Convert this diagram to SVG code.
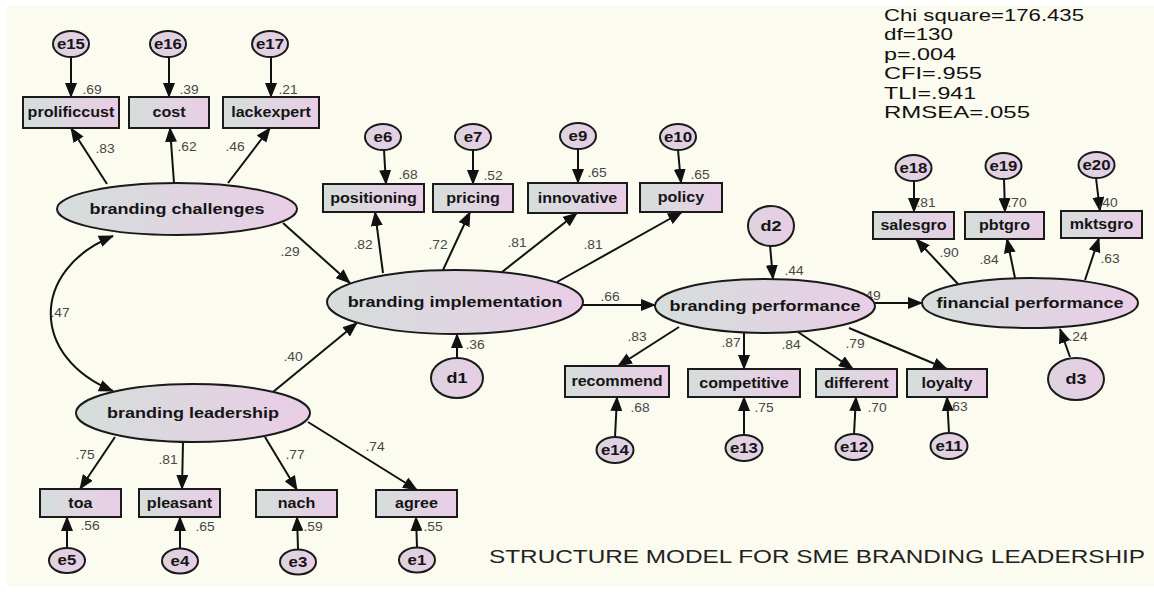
<svg xmlns="http://www.w3.org/2000/svg" width="1154" height="597" viewBox="0 0 1154 597">
<defs>
<linearGradient id="gb" x1="0" y1="0" x2="1" y2="0"><stop offset="0" stop-color="#d5dedb"/><stop offset="1" stop-color="#e9cde6"/></linearGradient>
<linearGradient id="ge" x1="0" y1="0" x2="1" y2="0"><stop offset="0" stop-color="#dcd4de"/><stop offset="1" stop-color="#e8cde5"/></linearGradient>
<marker id="ah" markerWidth="15" markerHeight="12" refX="14" refY="6" orient="auto-start-reverse" markerUnits="userSpaceOnUse"><path d="M0,0 L15,6 L0,12 z" fill="#111"/></marker>
<style>
.box{fill:url(#gb);stroke:#1a1a1a;stroke-width:2}
.lat{fill:url(#gb);stroke:#1a1a1a;stroke-width:2}
.err{fill:url(#ge);stroke:#1a1a1a;stroke-width:2}
.t{font-family:"Liberation Sans",Arial,sans-serif;font-weight:bold;fill:#151515;text-anchor:middle;transform-box:fill-box;transform-origin:center}
.tb{font-size:14px;transform:scaleX(1.15)}
.te{font-size:15px;transform:scaleX(1.2)}
.tr{font-size:14px;transform:scaleX(1.2)}
.td{font-size:15px;transform:scaleX(1.2)}
.n{font-family:"Liberation Sans",Arial,sans-serif;font-size:12px;fill:#474747;text-anchor:middle;transform:scaleX(1.15);transform-box:fill-box;transform-origin:center}
.c{fill:none;stroke:#111;stroke-width:2;marker-end:url(#ah)}
.fit{font-family:"Liberation Sans",Arial,sans-serif;font-size:17px;fill:#111}
.title{font-family:"Liberation Sans",Arial,sans-serif;font-size:19px;fill:#222}
</style>
</defs>
<rect x="0" y="0" width="1154" height="597" fill="#ffffff"/>
<rect x="7" y="5" width="1147" height="582" fill="#fbfbef"/>

<g id="connectors">
<line class="c" x1="71" y1="57" x2="71" y2="97"/>
<line class="c" x1="169" y1="57" x2="169" y2="97"/>
<line class="c" x1="271" y1="57" x2="271" y2="97"/>
<line class="c" x1="384" y1="150" x2="386" y2="184"/>
<line class="c" x1="473" y1="150" x2="473" y2="184"/>
<line class="c" x1="578" y1="149" x2="578" y2="183"/>
<line class="c" x1="678" y1="150" x2="681" y2="183"/>
<line class="c" x1="914" y1="181" x2="914" y2="212"/>
<line class="c" x1="1004" y1="179" x2="1005" y2="212"/>
<line class="c" x1="1096" y1="178" x2="1100" y2="211"/>
<line class="c" x1="615" y1="437" x2="617" y2="397"/>
<line class="c" x1="744" y1="435" x2="744" y2="397"/>
<line class="c" x1="854" y1="434" x2="856" y2="397"/>
<line class="c" x1="949" y1="433" x2="947" y2="397"/>
<line class="c" x1="67" y1="548" x2="67" y2="517"/>
<line class="c" x1="180" y1="548" x2="180" y2="517"/>
<line class="c" x1="298" y1="549" x2="297" y2="517"/>
<line class="c" x1="417" y1="547" x2="416" y2="517"/>
<line class="c" x1="107" y1="184" x2="71" y2="128"/>
<line class="c" x1="174" y1="183" x2="170" y2="128"/>
<line class="c" x1="228" y1="183" x2="270" y2="128"/>
<line class="c" x1="383" y1="273" x2="375" y2="212"/>
<line class="c" x1="443" y1="270" x2="470" y2="212"/>
<line class="c" x1="502" y1="272" x2="577" y2="213"/>
<line class="c" x1="557" y1="282" x2="682" y2="212"/>
<line class="c" x1="958" y1="284" x2="916" y2="239"/>
<line class="c" x1="1015" y1="278" x2="1007" y2="239"/>
<line class="c" x1="1085" y1="280" x2="1099" y2="238"/>
<line class="c" x1="679" y1="327" x2="618" y2="366"/>
<line class="c" x1="744" y1="333" x2="744" y2="369"/>
<line class="c" x1="798" y1="332" x2="853" y2="369"/>
<line class="c" x1="849" y1="328" x2="947" y2="369"/>
<line class="c" x1="115" y1="437" x2="80" y2="489"/>
<line class="c" x1="183" y1="442" x2="182" y2="489"/>
<line class="c" x1="265" y1="437" x2="297" y2="490"/>
<line class="c" x1="308" y1="422" x2="417" y2="490"/>
<line class="c" x1="283" y1="223" x2="350" y2="283"/>
<line class="c" x1="273" y1="392" x2="357" y2="323"/>
<line class="c" x1="583" y1="305" x2="655" y2="305"/>
<line class="c" x1="875" y1="303" x2="922" y2="303"/>
<line class="c" x1="457" y1="358" x2="457" y2="334"/>
<line class="c" x1="770" y1="245" x2="773" y2="279"/>
<line class="c" x1="1070" y1="357" x2="1060" y2="329"/>
<path class="c" d="M113,236 C30,270 30,357 113,391" marker-start="url(#ah)"/>
<text class="n" x="92" y="94">.69</text>
<text class="n" x="189" y="94">.39</text>
<text class="n" x="288" y="94">.21</text>
<text class="n" x="105" y="153">.83</text>
<text class="n" x="187" y="151">.62</text>
<text class="n" x="235" y="151">.46</text>
<text class="n" x="408" y="179">.68</text>
<text class="n" x="493" y="180">.52</text>
<text class="n" x="597" y="177">.65</text>
<text class="n" x="700" y="179">.65</text>
<text class="n" x="363" y="249">.82</text>
<text class="n" x="438" y="249">.72</text>
<text class="n" x="517" y="247">.81</text>
<text class="n" x="593" y="249">.81</text>
<text class="n" x="610" y="301">.66</text>
<text class="n" x="475" y="349">.36</text>
<text class="n" x="637" y="341">.83</text>
<text class="n" x="731" y="347">.87</text>
<text class="n" x="791" y="349">.84</text>
<text class="n" x="855" y="348">.79</text>
<text class="n" x="794" y="275">.44</text>
<text class="n" x="871" y="300">.49</text>
<text class="n" x="949" y="257">.90</text>
<text class="n" x="989" y="264">.84</text>
<text class="n" x="1110" y="263">.63</text>
<text class="n" x="926" y="207">.81</text>
<text class="n" x="1017" y="207">.70</text>
<text class="n" x="1108" y="207">.40</text>
<text class="n" x="1078" y="341">.24</text>
<text class="n" x="640" y="412">.68</text>
<text class="n" x="764" y="412">.75</text>
<text class="n" x="877" y="412">.70</text>
<text class="n" x="958" y="411">.63</text>
<text class="n" x="60" y="317">.47</text>
<text class="n" x="290" y="256">.29</text>
<text class="n" x="293" y="361">.40</text>
<text class="n" x="85" y="459">.75</text>
<text class="n" x="168" y="464">.81</text>
<text class="n" x="295" y="459">.77</text>
<text class="n" x="375" y="451">.74</text>
<text class="n" x="90" y="530">.56</text>
<text class="n" x="205" y="531">.65</text>
<text class="n" x="313" y="531">.59</text>
<text class="n" x="433" y="531">.55</text>
</g>

<g id="branding-challenges"><ellipse class="lat" cx="177" cy="209" rx="120" ry="26"/><text class="t te" x="177" y="214.5">branding challenges</text></g>
<g id="branding-implementation"><ellipse class="lat" cx="455" cy="302" rx="128" ry="32"/><text class="t te" x="455" y="307.5">branding implementation</text></g>
<g id="branding-leadership"><ellipse class="lat" cx="193" cy="413" rx="117" ry="29"/><text class="t te" x="193" y="418.5">branding leadership</text></g>
<g id="branding-performance"><ellipse class="lat" cx="765" cy="306" rx="110" ry="27"/><text class="t te" x="765" y="311.5">branding performance</text></g>
<g id="financial-performance"><ellipse class="lat" cx="1030" cy="303" rx="108" ry="25"/><text class="t te" x="1030" y="308.5">financial performance</text></g>

<g id="prolificcust"><rect class="box" x="23" y="97" width="96" height="31"/><text class="t tb" x="71" y="117.5">prolificcust</text></g>
<g id="cost"><rect class="box" x="129" y="97" width="80" height="31"/><text class="t tb" x="169" y="117.5">cost</text></g>
<g id="lackexpert"><rect class="box" x="223" y="97" width="96" height="31"/><text class="t tb" x="271" y="117.5">lackexpert</text></g>
<g id="positioning"><rect class="box" x="323" y="184" width="101" height="28"/><text class="t tb" x="373.5" y="203">positioning</text></g>
<g id="pricing"><rect class="box" x="433" y="184" width="80" height="28"/><text class="t tb" x="473" y="203">pricing</text></g>
<g id="innovative"><rect class="box" x="528" y="183" width="99" height="30"/><text class="t tb" x="577.5" y="203">innovative</text></g>
<g id="policy"><rect class="box" x="640" y="183" width="82" height="29"/><text class="t tb" x="681" y="202.5">policy</text></g>
<g id="salesgro"><rect class="box" x="873" y="212" width="81" height="27"/><text class="t tb" x="913.5" y="230.5">salesgro</text></g>
<g id="pbtgro"><rect class="box" x="965" y="212" width="79" height="27"/><text class="t tb" x="1004.5" y="230.5">pbtgro</text></g>
<g id="mktsgro"><rect class="box" x="1061" y="211" width="81" height="27"/><text class="t tb" x="1101.5" y="229.5">mktsgro</text></g>
<g id="recommend"><rect class="box" x="565" y="366" width="104" height="31"/><text class="t tb" x="617" y="386.5">recommend</text></g>
<g id="competitive"><rect class="box" x="688" y="369" width="112" height="28"/><text class="t tb" x="744" y="388">competitive</text></g>
<g id="different"><rect class="box" x="816" y="369" width="81" height="28"/><text class="t tb" x="856.5" y="388">different</text></g>
<g id="loyalty"><rect class="box" x="907" y="369" width="80" height="28"/><text class="t tb" x="947" y="388">loyalty</text></g>
<g id="toa"><rect class="box" x="40" y="489" width="81" height="28"/><text class="t tb" x="80.5" y="508">toa</text></g>
<g id="pleasant"><rect class="box" x="139" y="489" width="81" height="28"/><text class="t tb" x="179.5" y="508">pleasant</text></g>
<g id="nach"><rect class="box" x="256" y="490" width="81" height="27"/><text class="t tb" x="296.5" y="508.5">nach</text></g>
<g id="agree"><rect class="box" x="376" y="490" width="81" height="27"/><text class="t tb" x="416.5" y="508.5">agree</text></g>

<g id="e15"><ellipse class="err" cx="71" cy="44" rx="18" ry="13"/><text class="t tr" x="71" y="49">e15</text></g>
<g id="e16"><ellipse class="err" cx="168" cy="44" rx="18" ry="13"/><text class="t tr" x="168" y="49">e16</text></g>
<g id="e17"><ellipse class="err" cx="270" cy="44" rx="18" ry="13"/><text class="t tr" x="270" y="49">e17</text></g>
<g id="e6"><ellipse class="err" cx="383" cy="137" rx="18" ry="13"/><text class="t tr" x="383" y="142">e6</text></g>
<g id="e7"><ellipse class="err" cx="473" cy="137" rx="18" ry="13"/><text class="t tr" x="473" y="142">e7</text></g>
<g id="e9"><ellipse class="err" cx="578" cy="136" rx="18" ry="13"/><text class="t tr" x="578" y="141">e9</text></g>
<g id="e10"><ellipse class="err" cx="678" cy="137" rx="18" ry="13"/><text class="t tr" x="678" y="142">e10</text></g>
<g id="e18"><ellipse class="err" cx="913.5" cy="168" rx="18" ry="13"/><text class="t tr" x="913.5" y="173">e18</text></g>
<g id="e19"><ellipse class="err" cx="1003.5" cy="166" rx="18" ry="13"/><text class="t tr" x="1003.5" y="171">e19</text></g>
<g id="e20"><ellipse class="err" cx="1096.5" cy="165" rx="18" ry="13"/><text class="t tr" x="1096.5" y="170">e20</text></g>
<g id="e14"><ellipse class="err" cx="615" cy="450" rx="18.5" ry="13"/><text class="t tr" x="615" y="455">e14</text></g>
<g id="e13"><ellipse class="err" cx="744" cy="448" rx="18.5" ry="13"/><text class="t tr" x="744" y="453">e13</text></g>
<g id="e12"><ellipse class="err" cx="854" cy="447" rx="18.5" ry="13"/><text class="t tr" x="854" y="452">e12</text></g>
<g id="e11"><ellipse class="err" cx="949" cy="446" rx="18.5" ry="13"/><text class="t tr" x="949" y="451">e11</text></g>
<g id="e5"><ellipse class="err" cx="67" cy="560.5" rx="18" ry="12.5"/><text class="t tr" x="67" y="565.5">e5</text></g>
<g id="e4"><ellipse class="err" cx="180" cy="561" rx="18" ry="12.5"/><text class="t tr" x="180" y="566">e4</text></g>
<g id="e3"><ellipse class="err" cx="298" cy="562" rx="18" ry="12.5"/><text class="t tr" x="298" y="567">e3</text></g>
<g id="e1"><ellipse class="err" cx="417" cy="560" rx="18" ry="12.5"/><text class="t tr" x="417" y="565">e1</text></g>

<g id="d1"><ellipse class="err" cx="457" cy="378" rx="26" ry="20"/><text class="t td" x="457" y="383.5">d1</text></g>
<g id="d2"><ellipse class="err" cx="771" cy="226" rx="23" ry="20"/><text class="t td" x="771" y="231.5">d2</text></g>
<g id="d3"><ellipse class="err" cx="1076" cy="379" rx="28" ry="21"/><text class="t td" x="1076" y="384.5">d3</text></g>

<g id="fit-indices">
<text class="fit" x="884" y="20.5" textLength="200" lengthAdjust="spacingAndGlyphs">Chi square=176.435</text>
<text class="fit" x="884" y="40" textLength="69" lengthAdjust="spacingAndGlyphs">df=130</text>
<text class="fit" x="884" y="59.5" textLength="72" lengthAdjust="spacingAndGlyphs">p=.004</text>
<text class="fit" x="884" y="79" textLength="98" lengthAdjust="spacingAndGlyphs">CFI=.955</text>
<text class="fit" x="884" y="98.5" textLength="92" lengthAdjust="spacingAndGlyphs">TLI=.941</text>
<text class="fit" x="884" y="118" textLength="146" lengthAdjust="spacingAndGlyphs">RMSEA=.055</text>
</g>
<text class="title" x="489" y="563" textLength="656" lengthAdjust="spacingAndGlyphs">STRUCTURE MODEL FOR SME BRANDING LEADERSHIP</text>
</svg>
